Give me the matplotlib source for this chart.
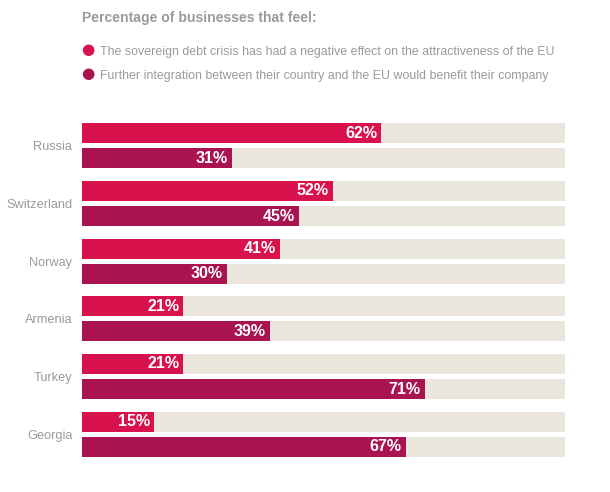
import matplotlib
matplotlib.use("Agg")
import matplotlib.pyplot as plt
import numpy as np

COUNTRIES = ["Russia", "Switzerland", "Norway", "Armenia", "Turkey", "Georgia"]
DEBT_CRISIS = [62, 52, 41, 21, 21, 15]
INTEGRATION = [31, 45, 30, 39, 71, 67]
SERIES_LABELS = [
    "The sovereign debt crisis has had a negative effect on the attractiveness of the EU",
    "Further integration between their country and the EU would benefit their company",
]
TITLE = "Percentage of businesses that feel:"

C_TOP = "#D8124C"
C_BOT = "#A9134F"
C_TRACK = "#EAE6DD"
C_GREY = "#9A9A9A"
FONT = ["Liberation Sans Narrow", "Liberation Sans", "DejaVu Sans"]

plt.rcParams["font.family"] = FONT

fig = plt.figure(figsize=(6.10, 4.92), dpi=100)
ax = fig.add_axes([82 / 610, (492 - 463) / 492, 483 / 610, 346 / 492])

y = np.arange(len(COUNTRIES))
h = 0.345
off = 0.217

ax.barh(y - off, [100] * len(y), height=h, color=C_TRACK, lw=0)
ax.barh(y + off, [100] * len(y), height=h, color=C_TRACK, lw=0)
ax.barh(y - off, DEBT_CRISIS, height=h, color=C_TOP, lw=0)
ax.barh(y + off, INTEGRATION, height=h, color=C_BOT, lw=0)

for yi, v in zip(y - off, DEBT_CRISIS):
    ax.text(v - 0.9, yi, f"{v}%", ha="right", va="center", color="white",
            fontsize=11.5, fontweight="bold")
for yi, v in zip(y + off, INTEGRATION):
    ax.text(v - 0.9, yi, f"{v}%", ha="right", va="center", color="white",
            fontsize=11.5, fontweight="bold")

ax.set_xlim(0, 100)
ax.set_ylim(len(y) - 0.5, -0.5)
ax.set_yticks(y)
ax.set_yticklabels(COUNTRIES, color=C_GREY, fontsize=9.2)
ax.tick_params(axis="y", length=0, pad=7)
ax.set_xticks([])
for s in ax.spines.values():
    s.set_visible(False)

fig.text(82 / 610, 1 - 18 / 492, TITLE, ha="left", va="center",
         fontsize=10.1, fontweight="bold", color=C_GREY)
for i, (lab, col) in enumerate(zip(SERIES_LABELS, [C_TOP, C_BOT])):
    yy = 1 - (51 + 24 * i) / 492
    fig.text(88 / 610, yy + 1 / 492, "\u25CF", ha="center", va="center",
             fontsize=11, color=col, family=["DejaVu Sans"])
    fig.text(100 / 610, yy - 1.5 / 492, lab, ha="left", va="center",
             fontsize=8.9, color=C_GREY)

fig.savefig("out.png", dpi=100, facecolor="white")
